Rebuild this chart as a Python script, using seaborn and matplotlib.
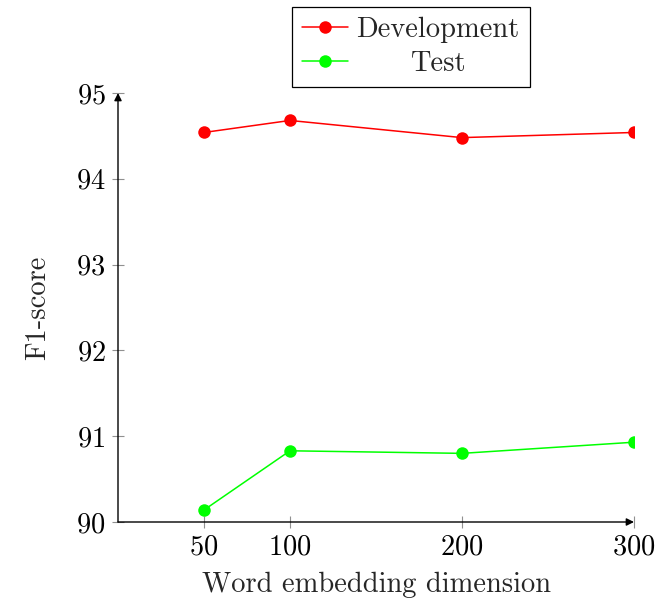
import matplotlib
matplotlib.use("Agg")
import matplotlib.pyplot as plt
from matplotlib.transforms import Affine2D
import seaborn as sns
import pandas as pd

dims = [50, 100, 200, 300]
dev_scores = [94.54, 94.68, 94.48, 94.54]
test_scores = [90.14, 90.83, 90.80, 90.93]
series_names = ["Development", "Test"]
y_ticks = [90, 91, 92, 93, 94, 95]

df = pd.DataFrame({
    "dim": dims * 2,
    "score": dev_scores + test_scores,
    "set": [series_names[0]] * len(dims) + [series_names[1]] * len(dims),
})

sns.set_style("white")
plt.rcParams["font.family"] = ["cmr10", "DejaVu Serif"]
plt.rcParams["mathtext.fontset"] = "cm"
plt.rcParams["axes.unicode_minus"] = False
plt.rcParams["axes.formatter.use_mathtext"] = True

FS = 20.5
fig = plt.figure(figsize=(6.6, 6.01), dpi=100)
ax = fig.add_axes([118 / 660, 79 / 601, 516 / 660, 429 / 601])

sns.lineplot(data=df, x="dim", y="score", hue="set",
             palette={"Development": "#ff0000", "Test": "#00ff00"},
             marker="o", markersize=9, markeredgewidth=0, linewidth=1.1,
             ax=ax)

ax.set_xlim(0, 300)
ax.set_ylim(90, 95)
ax.set_xticks(dims)
ax.set_yticks(y_ticks)
ax.tick_params(bottom=True, left=True, direction="inout", length=8, width=0.8,
               color="#909090", labelsize=FS, pad=5, labelcolor="black")
ax.set_xlabel("Word embedding dimension", fontsize=FS, labelpad=8)
ax.set_ylabel("F1-score", fontsize=FS, labelpad=18)

for s in ax.spines.values():
    s.set_visible(False)
arrow = dict(arrowstyle="-|>", color="black", lw=1.0, shrinkA=0, shrinkB=0,
             mutation_scale=11)
ax.annotate("", xy=(1, 0), xytext=(0, 0), xycoords="axes fraction",
            textcoords="axes fraction", arrowprops=arrow, annotation_clip=False)
ax.annotate("", xy=(0, 1), xytext=(0, 0), xycoords="axes fraction",
            textcoords="axes fraction", arrowprops=arrow, annotation_clip=False)

leg = ax.legend(loc="upper center", bbox_to_anchor=(411 / 660, 1 - 7 / 601),
                bbox_transform=fig.transFigure, fontsize=FS, frameon=True,
                fancybox=False, edgecolor="black", framealpha=1,
                handlelength=1.6, borderpad=0.35, labelspacing=0.25,
                handletextpad=0.3, borderaxespad=0)
leg.get_frame().set_linewidth(0.9)
leg.set_title(None)

# center the legend labels within their column (as in the reference)
fig.canvas.draw()
r = fig.canvas.get_renderer()
texts = leg.get_texts()
widths = [t.get_window_extent(r).width for t in texts]
wmax = max(widths)
for t, w in zip(texts, widths):
    t.set_transform(t.get_transform() + Affine2D().translate((wmax - w) / 2, 0))

fig.savefig("out.png", dpi=100)
